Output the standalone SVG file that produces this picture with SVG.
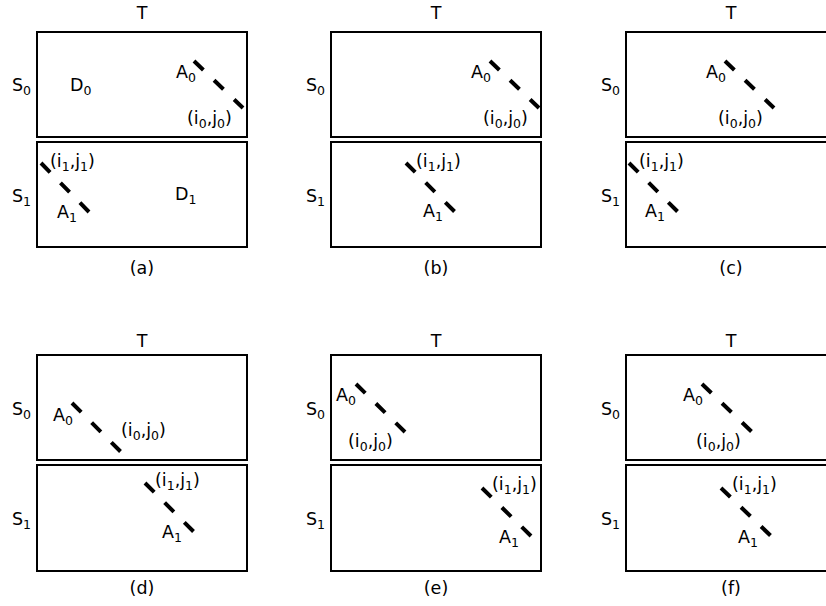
<svg xmlns="http://www.w3.org/2000/svg" width="826" height="606" viewBox="0 0 826 606">
  <style>
    .box { fill: #ffffff; stroke: #000000; stroke-width: 2; }
    .seg { fill: none; stroke: #000000; stroke-width: 4; stroke-dasharray: 13 14.8; stroke-linecap: butt; }
    text { font-family: "DejaVu Sans", "Liberation Sans", sans-serif; font-size: 17.5px; fill: #000000; }
    .mid { text-anchor: middle; }
    .sub { font-size: 12.5px; }
  </style>
  <rect x="0" y="0" width="826" height="606" fill="#ffffff"/>

  <!-- panel (a) -->
  <g id="panel-a" transform="translate(37,32)">
    <rect class="box" x="0" y="0" width="210" height="105"/>
    <rect class="box" x="0" y="110" width="210" height="105"/>
    <text class="mid" x="105" y="-13">T</text>
    <text x="-25" y="59">S<tspan class="sub" dy="4">0</tspan></text>
    <text x="-25" y="170">S<tspan class="sub" dy="4">1</tspan></text>
    <text x="33" y="59">D<tspan class="sub" dy="4">0</tspan></text>
    <text x="138" y="168">D<tspan class="sub" dy="4">1</tspan></text>
    <text x="139" y="46">A<tspan class="sub" dy="4">0</tspan></text>
    <text x="150" y="92">(i<tspan class="sub" dy="4">0</tspan><tspan dy="-4">,j</tspan><tspan class="sub" dy="4">0</tspan><tspan dy="-4">)</tspan></text>
    <text x="13" y="135">(i<tspan class="sub" dy="4">1</tspan><tspan dy="-4">,j</tspan><tspan class="sub" dy="4">1</tspan><tspan dy="-4">)</tspan></text>
    <text x="20" y="186">A<tspan class="sub" dy="4">1</tspan></text>
    <text class="mid" x="105" y="242">(a)</text>
  </g>

  <!-- panel (b) -->
  <g id="panel-b" transform="translate(331,32)">
    <rect class="box" x="0" y="0" width="210" height="105"/>
    <rect class="box" x="0" y="110" width="210" height="105"/>
    <text class="mid" x="105" y="-13">T</text>
    <text x="-25" y="59">S<tspan class="sub" dy="4">0</tspan></text>
    <text x="-25" y="170">S<tspan class="sub" dy="4">1</tspan></text>
    <text x="140" y="46">A<tspan class="sub" dy="4">0</tspan></text>
    <text x="152" y="92">(i<tspan class="sub" dy="4">0</tspan><tspan dy="-4">,j</tspan><tspan class="sub" dy="4">0</tspan><tspan dy="-4">)</tspan></text>
    <text x="85" y="135">(i<tspan class="sub" dy="4">1</tspan><tspan dy="-4">,j</tspan><tspan class="sub" dy="4">1</tspan><tspan dy="-4">)</tspan></text>
    <text x="92" y="185">A<tspan class="sub" dy="4">1</tspan></text>
    <text class="mid" x="105" y="242">(b)</text>
  </g>

  <!-- panel (c) -->
  <g id="panel-c" transform="translate(626,32)">
    <rect class="box" x="0" y="0" width="210" height="105"/>
    <rect class="box" x="0" y="110" width="210" height="105"/>
    <text class="mid" x="105" y="-13">T</text>
    <text x="-25" y="59">S<tspan class="sub" dy="4">0</tspan></text>
    <text x="-25" y="170">S<tspan class="sub" dy="4">1</tspan></text>
    <text x="80" y="46">A<tspan class="sub" dy="4">0</tspan></text>
    <text x="92" y="92">(i<tspan class="sub" dy="4">0</tspan><tspan dy="-4">,j</tspan><tspan class="sub" dy="4">0</tspan><tspan dy="-4">)</tspan></text>
    <text x="13" y="135">(i<tspan class="sub" dy="4">1</tspan><tspan dy="-4">,j</tspan><tspan class="sub" dy="4">1</tspan><tspan dy="-4">)</tspan></text>
    <text x="19" y="185">A<tspan class="sub" dy="4">1</tspan></text>
    <text class="mid" x="105" y="242">(c)</text>
  </g>

  <!-- panel (d) -->
  <g id="panel-d" transform="translate(37,355)">
    <rect class="box" x="0" y="0" width="210" height="105"/>
    <rect class="box" x="0" y="110" width="210" height="106"/>
    <text class="mid" x="105" y="-8">T</text>
    <text x="-25" y="60">S<tspan class="sub" dy="4">0</tspan></text>
    <text x="-25" y="170">S<tspan class="sub" dy="4">1</tspan></text>
    <text x="16" y="66">A<tspan class="sub" dy="4">0</tspan></text>
    <text x="84" y="81">(i<tspan class="sub" dy="4">0</tspan><tspan dy="-4">,j</tspan><tspan class="sub" dy="4">0</tspan><tspan dy="-4">)</tspan></text>
    <text x="118" y="131">(i<tspan class="sub" dy="4">1</tspan><tspan dy="-4">,j</tspan><tspan class="sub" dy="4">1</tspan><tspan dy="-4">)</tspan></text>
    <text x="125" y="183">A<tspan class="sub" dy="4">1</tspan></text>
    <text class="mid" x="105" y="239">(d)</text>
  </g>

  <!-- panel (e) -->
  <g id="panel-e" transform="translate(331,355)">
    <rect class="box" x="0" y="0" width="210" height="105"/>
    <rect class="box" x="0" y="110" width="210" height="106"/>
    <text class="mid" x="105" y="-8">T</text>
    <text x="-25" y="60">S<tspan class="sub" dy="4">0</tspan></text>
    <text x="-25" y="170">S<tspan class="sub" dy="4">1</tspan></text>
    <text x="5" y="46">A<tspan class="sub" dy="4">0</tspan></text>
    <text x="17" y="92">(i<tspan class="sub" dy="4">0</tspan><tspan dy="-4">,j</tspan><tspan class="sub" dy="4">0</tspan><tspan dy="-4">)</tspan></text>
    <text x="161" y="135">(i<tspan class="sub" dy="4">1</tspan><tspan dy="-4">,j</tspan><tspan class="sub" dy="4">1</tspan><tspan dy="-4">)</tspan></text>
    <text x="168" y="188">A<tspan class="sub" dy="4">1</tspan></text>
    <text class="mid" x="105" y="239">(e)</text>
  </g>

  <!-- panel (f) -->
  <g id="panel-f" transform="translate(626,355)">
    <rect class="box" x="0" y="0" width="210" height="105"/>
    <rect class="box" x="0" y="110" width="210" height="106"/>
    <text class="mid" x="105" y="-8">T</text>
    <text x="-25" y="60">S<tspan class="sub" dy="4">0</tspan></text>
    <text x="-25" y="170">S<tspan class="sub" dy="4">1</tspan></text>
    <text x="57" y="46">A<tspan class="sub" dy="4">0</tspan></text>
    <text x="70" y="92">(i<tspan class="sub" dy="4">0</tspan><tspan dy="-4">,j</tspan><tspan class="sub" dy="4">0</tspan><tspan dy="-4">)</tspan></text>
    <text x="106" y="135">(i<tspan class="sub" dy="4">1</tspan><tspan dy="-4">,j</tspan><tspan class="sub" dy="4">1</tspan><tspan dy="-4">)</tspan></text>
    <text x="112" y="188">A<tspan class="sub" dy="4">1</tspan></text>
    <text class="mid" x="105" y="239">(f)</text>
  </g>

  <!-- dashed diagonal runs, absolute coordinates -->
  <g id="connectors">
    <line class="seg" x1="194" y1="61" x2="243" y2="108"/>
    <line class="seg" x1="41" y1="163" x2="89" y2="212"/>
    <line class="seg" x1="490" y1="61" x2="539" y2="108"/>
    <line class="seg" x1="406" y1="163" x2="455" y2="212"/>
    <line class="seg" x1="725" y1="61" x2="774" y2="108"/>
    <line class="seg" x1="629" y1="163" x2="678" y2="212"/>
    <line class="seg" x1="72" y1="403" x2="121" y2="452"/>
    <line class="seg" x1="145" y1="483" x2="194" y2="532"/>
    <line class="seg" x1="356" y1="384" x2="406" y2="433"/>
    <line class="seg" x1="482" y1="488" x2="532" y2="537"/>
    <line class="seg" x1="702" y1="384" x2="753" y2="433"/>
    <line class="seg" x1="721" y1="488" x2="772" y2="537"/>
  </g>
</svg>
